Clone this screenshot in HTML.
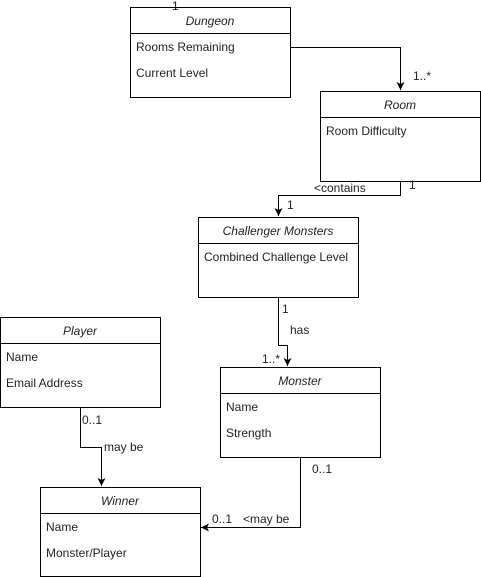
<!DOCTYPE html>
<html><head><meta charset="utf-8"><style>body{margin:0;background:#fff}svg{display:block}text{font-family:"Liberation Sans",sans-serif;font-size:12px;fill:#222}</style></head><body>
<svg width="481" height="577" viewBox="0 0 481 577" xmlns="http://www.w3.org/2000/svg">
<defs><marker id="a" markerWidth="10" markerHeight="10" refX="8" refY="4" orient="auto" markerUnits="userSpaceOnUse"><path d="M0,0 L8,4 L0,8 L2,4 z" fill="#000"/></marker></defs>
<g fill="#fff" stroke="#000" stroke-width="1">
<rect x="130.5" y="7.5" width="160" height="90"/><line x1="130" y1="33.5" x2="290" y2="33.5"/>
<rect x="320.5" y="91.5" width="160" height="90"/><line x1="320" y1="117.5" x2="480" y2="117.5"/>
<rect x="198.5" y="217.5" width="160" height="80"/><line x1="198" y1="243.5" x2="358" y2="243.5"/>
<rect x="0.5" y="317.5" width="160" height="90"/><line x1="0" y1="343.5" x2="160" y2="343.5"/>
<rect x="220.5" y="367.5" width="160" height="90"/><line x1="220" y1="393.5" x2="380" y2="393.5"/>
<rect x="40.5" y="487.5" width="160" height="89"/><line x1="40" y1="513.5" x2="200" y2="513.5"/>
</g>
<g fill="none" stroke="#000" stroke-width="1" marker-end="url(#a)">
<path d="M290,47.5 H400.5 V90"/>
<path d="M400.5,181 V195.5 H278.5 V216"/>
<path d="M278.5,297 V345.5 H287.5 V366"/>
<path d="M80.5,407 V447.5 H101.5 V486"/>
<path d="M300.5,457 V527.5 H201"/>
</g>
<g font-style="italic" text-anchor="middle">
<text x="210" y="25" font-style="italic">Dungeon</text>
<text x="400" y="109" font-style="italic">Room</text>
<text x="278" y="235" font-style="italic">Challenger Monsters</text>
<text x="80" y="335" font-style="italic">Player</text>
<text x="300" y="385" font-style="italic">Monster</text>
<text x="120" y="505" font-style="italic">Winner</text>
</g>
<text x="136" y="51">Rooms Remaining</text>
<text x="136" y="77">Current Level</text>
<text x="326" y="135">Room Difficulty</text>
<text x="204" y="261">Combined Challenge Level</text>
<text x="6" y="361">Name</text>
<text x="6" y="387">Email Address</text>
<text x="226" y="411">Name</text>
<text x="226" y="437">Strength</text>
<text x="46" y="531">Name</text>
<text x="46" y="557">Monster/Player</text>
<text x="172" y="10">1</text>
<text x="413" y="80">1..*</text>
<text x="314" y="192">&lt;contains</text>
<text x="409" y="189">1</text>
<text x="287" y="209">1</text>
<text x="282" y="313">1</text>
<text x="290" y="334">has</text>
<text x="262" y="363">1..*</text>
<text x="82" y="424">0..1</text>
<text x="104" y="451">may be</text>
<text x="312" y="473">0..1</text>
<text x="212" y="523">0..1</text>
<text x="243" y="523">&lt;may be</text>
</svg>
</body></html>
